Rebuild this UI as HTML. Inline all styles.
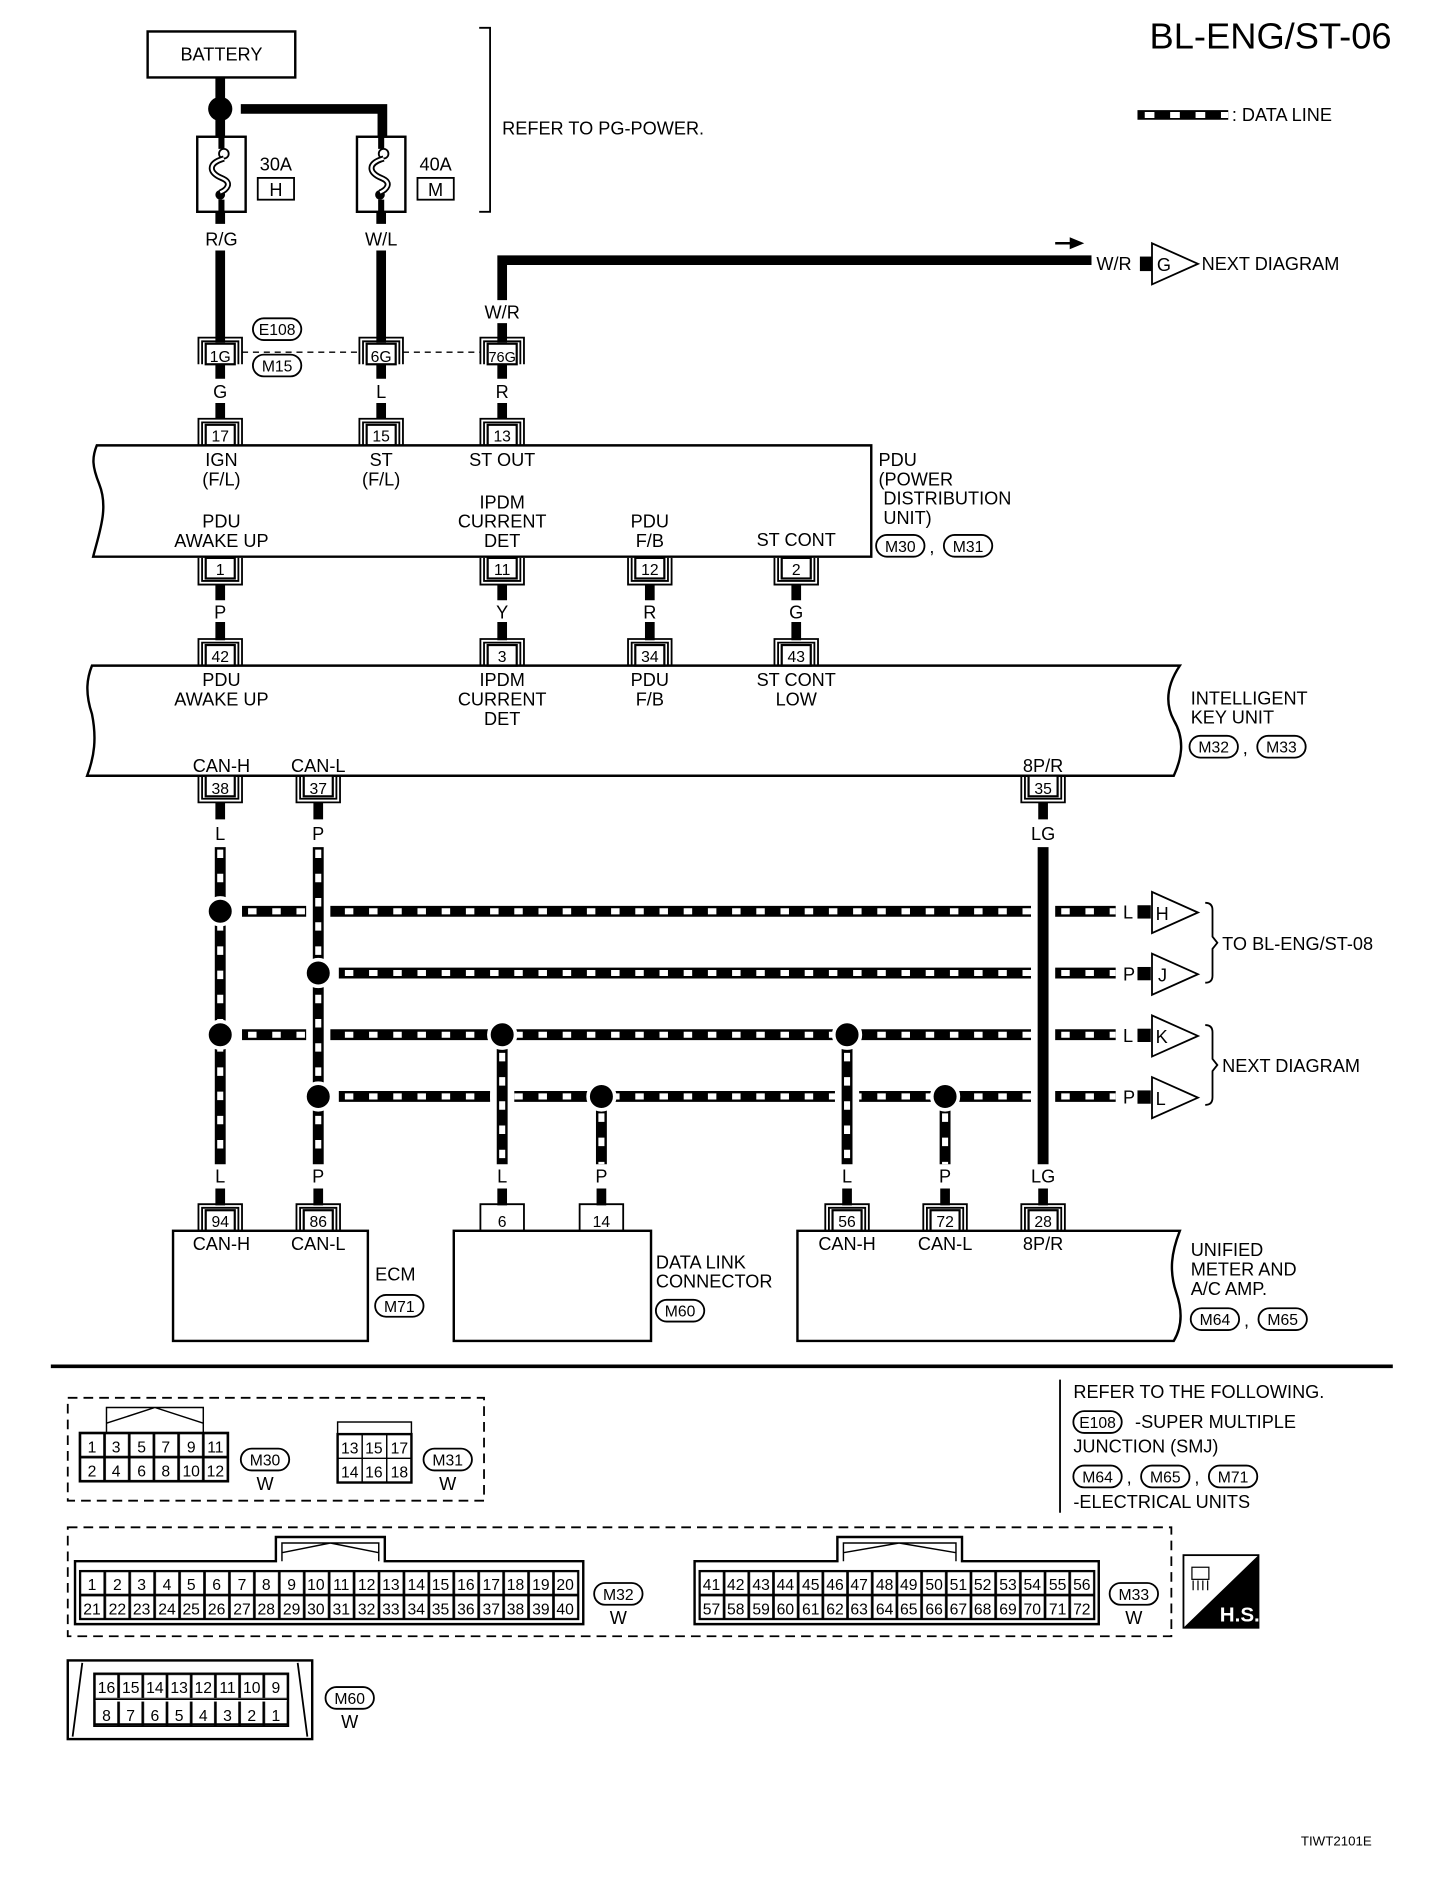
<!DOCTYPE html>
<html><head><meta charset="utf-8"><style>
html,body{margin:0;padding:0;background:#fff}
svg{display:block}
text{font-family:"Liberation Sans",sans-serif;font-size:15px;fill:#000}
.c{text-anchor:middle}
.s{font-size:13px}
</style></head><body>
<svg width="1440" height="1894" viewBox="0 0 1190 1565" preserveAspectRatio="none" xmlns="http://www.w3.org/2000/svg">
<defs>
<g id="ct"><path d="M-18 22V0H18V22" fill="none" stroke="#000" stroke-width="1.5"/><path d="M-15 22V3H15V22" fill="none" stroke="#000" stroke-width="1.5"/><rect x="-12" y="5" width="24" height="17" fill="#fff" stroke="#000" stroke-width="1.8"/></g>
<g id="cb"><path d="M-18 0V22H18V0" fill="none" stroke="#000" stroke-width="1.5"/><path d="M-15 0V19H15V0" fill="none" stroke="#000" stroke-width="1.5"/><rect x="-12" y="0" width="24" height="17" fill="#fff" stroke="#000" stroke-width="1.8"/></g>
<g id="fuse"><rect x="0" y="0" width="40" height="62" fill="#fff" stroke="#000" stroke-width="2"/><path d="M20 0V10M20 52V62" stroke="#000" stroke-width="5"/><circle cx="22" cy="14" r="4" fill="#fff" stroke="#000" stroke-width="1.5"/><circle cx="19" cy="48" r="4" fill="#000"/><path d="M22 18C8 22 10 30 20 34C30 38 24 44 19 46" fill="none" stroke="#000" stroke-width="5"/><path d="M22 18C8 22 10 30 20 34C30 38 24 44 19 46" fill="none" stroke="#fff" stroke-width="2"/></g>
<pattern id="p32" x="66" y="1298" width="20.6" height="20" patternUnits="userSpaceOnUse"><rect x="0.5" y="0.5" width="19.6" height="19" fill="#fff" stroke="#000" stroke-width="1.2"/></pattern>
<pattern id="p33" x="578" y="1298" width="20.4" height="20" patternUnits="userSpaceOnUse"><rect x="0.5" y="0.5" width="19.4" height="19" fill="#fff" stroke="#000" stroke-width="1.2"/></pattern>
<pattern id="p30" x="66" y="1184" width="20.4" height="20" patternUnits="userSpaceOnUse"><rect x="0.5" y="0.5" width="19.4" height="19" fill="#fff" stroke="#000" stroke-width="1.2"/></pattern>
<pattern id="p60" x="78" y="1383" width="20" height="21" patternUnits="userSpaceOnUse"><rect x="0.5" y="0.5" width="19" height="20" fill="#fff" stroke="#000" stroke-width="1.2"/></pattern>
</defs>

<text x="1150" y="40" style="font-size:30px;text-anchor:end">BL-ENG/ST-06</text>
<path d="M940 95H1015" stroke="#000" stroke-width="8"/>
<path d="M946 95H1015" stroke="#fff" stroke-width="5" stroke-dasharray="8 13"/>
<text x="1018" y="100">: DATA LINE</text>

<rect x="122" y="26" width="122" height="38" fill="#fff" stroke="#000" stroke-width="2"/>
<text class="c" x="183" y="50">BATTERY</text>
<path d="M182 64V113M199 90H316V113" fill="none" stroke="#000" stroke-width="8"/>
<circle cx="182" cy="90" r="10" fill="#000"/>
<use href="#fuse" x="163" y="113"/>
<use href="#fuse" x="295" y="113"/>
<text class="c" x="228" y="141">30A</text><rect x="213" y="147" width="30" height="18" fill="#fff" stroke="#000" stroke-width="1.5"/><text class="c" x="228" y="162">H</text>
<text class="c" x="360" y="141">40A</text><rect x="345" y="147" width="30" height="18" fill="#fff" stroke="#000" stroke-width="1.5"/><text class="c" x="360" y="162">M</text>
<path d="M396 23H405V175H396" fill="none" stroke="#000" stroke-width="1.5"/>
<text x="415" y="111">REFER TO PG-POWER.</text>
<path d="M182 175V185M315 175V185" stroke="#000" stroke-width="8"/>
<text class="c" x="183" y="203">R/G</text><text class="c" x="315" y="203">W/L</text>
<path d="M182 207V283M315 207V283" stroke="#000" stroke-width="8"/>
<path d="M415 248V215H902" fill="none" stroke="#000" stroke-width="8"/>
<path d="M872 201H886" stroke="#000" stroke-width="2"/><path d="M884 196L896 201L884 206Z" fill="#000"/>
<text x="906" y="223">W/R</text>
<rect x="942" y="212" width="10" height="12" fill="#000"/>
<path d="M952 201V235L990 218Z" fill="#fff" stroke="#000" stroke-width="1.5"/>
<text x="956" y="224">G</text>
<text x="993" y="223">NEXT DIAGRAM</text>
<text class="c" x="415" y="263">W/R</text>
<path d="M415 267V283" stroke="#000" stroke-width="8"/>

<path d="M200 291H297M333 291H397" stroke="#000" stroke-width="1.2" stroke-dasharray="5 4"/>
<use href="#ct" x="182" y="279"/><use href="#ct" x="315" y="279"/><use href="#ct" x="415" y="279"/>
<text class="c s" x="182" y="299">1G</text><text class="c s" x="315" y="299">6G</text><text class="c s" x="415" y="299" style="font-size:12px">76G</text>
<rect x="209" y="263" width="40" height="18" rx="9" fill="#fff" stroke="#000" stroke-width="1.5"/><text class="c s" x="229" y="277">E108</text>
<rect x="209" y="293" width="40" height="18" rx="9" fill="#fff" stroke="#000" stroke-width="1.5"/><text class="c s" x="229" y="307">M15</text>
<path d="M182 301V313M315 301V313M415 301V313M182 333V346M315 333V346M415 333V346" stroke="#000" stroke-width="8"/>
<text class="c" x="182" y="329">G</text><text class="c" x="315" y="329">L</text><text class="c" x="415" y="329">R</text>
<use href="#ct" x="182" y="346"/><use href="#ct" x="315" y="346"/><use href="#ct" x="415" y="346"/>
<text class="c s" x="182" y="365">17</text><text class="c s" x="315" y="365">15</text><text class="c s" x="415" y="365">13</text>

<path d="M80 368H720V460H77C82 440 90 420 82 400C76 385 76 378 80 368Z" fill="none" stroke="#000" stroke-width="2"/>
<text class="c" x="183" y="385">IGN</text><text class="c" x="183" y="401">(F/L)</text>
<text class="c" x="315" y="385">ST</text><text class="c" x="315" y="401">(F/L)</text>
<text class="c" x="415" y="385">ST OUT</text>
<text class="c" x="415" y="420">IPDM</text><text class="c" x="415" y="436">CURRENT</text><text class="c" x="415" y="452">DET</text>
<text class="c" x="183" y="436">PDU</text><text class="c" x="183" y="452">AWAKE UP</text>
<text class="c" x="537" y="436">PDU</text><text class="c" x="537" y="452">F/B</text>
<text class="c" x="658" y="451">ST CONT</text>
<text x="726" y="385">PDU</text><text x="726" y="401">(POWER</text><text x="730" y="417">DISTRIBUTION</text><text x="730" y="433">UNIT)</text>
<rect x="724" y="442" width="40" height="18" rx="9" fill="#fff" stroke="#000" stroke-width="1.5"/><text class="c s" x="744" y="456">M30</text>
<text x="768" y="457">,</text>
<rect x="780" y="442" width="40" height="18" rx="9" fill="#fff" stroke="#000" stroke-width="1.5"/><text class="c s" x="800" y="456">M31</text>
<use href="#cb" x="182" y="461"/><use href="#cb" x="415" y="461"/><use href="#cb" x="537" y="461"/><use href="#cb" x="658" y="461"/>
<text class="c s" x="182" y="475">1</text><text class="c s" x="415" y="475">11</text><text class="c s" x="537" y="475">12</text><text class="c s" x="658" y="475">2</text>
<path d="M182 483V496M415 483V496M537 483V496M658 483V496M182 514V529M415 514V529M537 514V529M658 514V529" stroke="#000" stroke-width="8"/>
<text class="c" x="182" y="511">P</text><text class="c" x="415" y="511">Y</text><text class="c" x="537" y="511">R</text><text class="c" x="658" y="511">G</text>
<use href="#ct" x="182" y="528"/><use href="#ct" x="415" y="528"/><use href="#ct" x="537" y="528"/><use href="#ct" x="658" y="528"/>
<text class="c s" x="182" y="547">42</text><text class="c s" x="415" y="547">3</text><text class="c s" x="537" y="547">34</text><text class="c s" x="658" y="547">43</text>

<path d="M76 550H975C965 565 962 580 970 595C980 612 976 628 970 641H72C78 625 80 610 76 590C70 572 72 560 76 550Z" fill="none" stroke="#000" stroke-width="2"/>
<text class="c" x="183" y="567">PDU</text><text class="c" x="183" y="583">AWAKE UP</text>
<text class="c" x="415" y="567">IPDM</text><text class="c" x="415" y="583">CURRENT</text><text class="c" x="415" y="599">DET</text>
<text class="c" x="537" y="567">PDU</text><text class="c" x="537" y="583">F/B</text>
<text class="c" x="658" y="567">ST CONT</text><text class="c" x="658" y="583">LOW</text>
<text x="984" y="582">INTELLIGENT</text><text x="984" y="598">KEY UNIT</text>
<rect x="983" y="608" width="40" height="18" rx="9" fill="#fff" stroke="#000" stroke-width="1.5"/><text class="c s" x="1003" y="622">M32</text>
<text x="1027" y="623">,</text>
<rect x="1039" y="608" width="40" height="18" rx="9" fill="#fff" stroke="#000" stroke-width="1.5"/><text class="c s" x="1059" y="622">M33</text>
<text class="c" x="183" y="638">CAN-H</text><text class="c" x="263" y="638">CAN-L</text><text class="c" x="862" y="638">8P/R</text>
<use href="#cb" x="182" y="641"/><use href="#cb" x="263" y="641"/><use href="#cb" x="862" y="641"/>
<text class="c s" x="182" y="656">38</text><text class="c s" x="263" y="656">37</text><text class="c s" x="862" y="656">35</text>
<path d="M182 663V677M263 663V677M862 663V677" stroke="#000" stroke-width="8"/>
<text class="c" x="182" y="694">L</text><text class="c" x="263" y="694">P</text><text class="c" x="862" y="694">LG</text>

<g stroke-width="9" fill="none">
<path d="M200 753H852M872 753H922M280 804H852M872 804H922M200 855H852M872 855H922M280 906H852M872 906H922" stroke="#000"/>
</g>
<g stroke-width="5" fill="none" stroke="#fff" stroke-dasharray="7 13">
<path d="M205 753H852M877 753H922M285 804H852M877 804H922M205 855H852M877 855H922M285 906H852M877 906H922"/>
</g>
<path d="M263 700V962M415 862V962M700 862V962" stroke="#fff" stroke-width="20"/>
<path d="M182 700V962M263 700V962M415 855V962M497 906V962M700 855V962M781 906V962" stroke="#000" stroke-width="9"/>
<path d="M182 702V962M263 702V962M415 870V962M497 920V962M700 870V962M781 920V962" stroke="#fff" stroke-width="5" stroke-dasharray="7 13"/>
<path d="M862 700V962" stroke="#000" stroke-width="9"/>
<g fill="#000" stroke="#fff" stroke-width="3">
<circle cx="182" cy="753" r="11"/><circle cx="263" cy="804" r="11"/><circle cx="182" cy="855" r="11"/><circle cx="415" cy="855" r="11"/><circle cx="700" cy="855" r="11"/><circle cx="263" cy="906" r="11"/><circle cx="497" cy="906" r="11"/><circle cx="781" cy="906" r="11"/>
</g>
<g>
<text x="928" y="759">L</text><rect x="940" y="748" width="11" height="11" fill="#000"/><path d="M952 737V771L990 754Z" fill="#fff" stroke="#000" stroke-width="1.5"/><text x="955" y="760">H</text>
<text x="928" y="810">P</text><rect x="940" y="799" width="11" height="11" fill="#000"/><path d="M952 788V822L990 805Z" fill="#fff" stroke="#000" stroke-width="1.5"/><text x="957" y="811">J</text>
<text x="928" y="861">L</text><rect x="940" y="850" width="11" height="11" fill="#000"/><path d="M952 839V873L990 856Z" fill="#fff" stroke="#000" stroke-width="1.5"/><text x="955" y="862">K</text>
<text x="928" y="912">P</text><rect x="940" y="901" width="11" height="11" fill="#000"/><path d="M952 890V924L990 907Z" fill="#fff" stroke="#000" stroke-width="1.5"/><text x="955" y="913">L</text>
</g>
<path d="M996 746Q1002 746 1002 752V774L1006 779L1002 784V806Q1002 812 996 812" fill="none" stroke="#000" stroke-width="1.5"/>
<path d="M996 847Q1002 847 1002 853V875L1006 880L1002 885V907Q1002 913 996 913" fill="none" stroke="#000" stroke-width="1.5"/>
<text x="1010" y="785">TO BL-ENG/ST-08</text>
<text x="1010" y="886">NEXT DIAGRAM</text>

<text class="c" x="182" y="977">L</text><text class="c" x="263" y="977">P</text><text class="c" x="415" y="977">L</text><text class="c" x="497" y="977">P</text><text class="c" x="700" y="977">L</text><text class="c" x="781" y="977">P</text><text class="c" x="862" y="977">LG</text>
<path d="M182 982V996M263 982V996M415 982V996M497 982V996M700 982V996M781 982V996M862 982V996" stroke="#000" stroke-width="8"/>
<use href="#ct" x="182" y="995"/><use href="#ct" x="263" y="995"/><use href="#ct" x="700" y="995"/><use href="#ct" x="781" y="995"/><use href="#ct" x="862" y="995"/>
<path d="M397 1017V995H433V1017M479 1017V995H515V1017" fill="none" stroke="#000" stroke-width="1.5"/>
<text class="c s" x="182" y="1014">94</text><text class="c s" x="263" y="1014">86</text><text class="c s" x="415" y="1014">6</text><text class="c s" x="497" y="1014">14</text><text class="c s" x="700" y="1014">56</text><text class="c s" x="781" y="1014">72</text><text class="c s" x="862" y="1014">28</text>

<rect x="143" y="1017" width="161" height="91" fill="none" stroke="#000" stroke-width="2"/>
<text class="c" x="183" y="1033">CAN-H</text><text class="c" x="263" y="1033">CAN-L</text>
<text x="310" y="1058">ECM</text>
<rect x="310" y="1070" width="40" height="18" rx="9" fill="#fff" stroke="#000" stroke-width="1.5"/><text class="c s" x="330" y="1084">M71</text>
<rect x="375" y="1017" width="163" height="91" fill="none" stroke="#000" stroke-width="2"/>
<text x="542" y="1048">DATA LINK</text><text x="542" y="1064">CONNECTOR</text>
<rect x="542" y="1074" width="40" height="18" rx="9" fill="#fff" stroke="#000" stroke-width="1.5"/><text class="c s" x="562" y="1088">M60</text>
<path d="M659 1017H975C968 1035 966 1050 972 1068C978 1085 976 1098 970 1108H659Z" fill="none" stroke="#000" stroke-width="2"/>
<text class="c" x="700" y="1033">CAN-H</text><text class="c" x="781" y="1033">CAN-L</text><text class="c" x="862" y="1033">8P/R</text>
<text x="984" y="1038">UNIFIED</text><text x="984" y="1054">METER AND</text><text x="984" y="1070">A/C AMP.</text>
<rect x="984" y="1081" width="40" height="18" rx="9" fill="#fff" stroke="#000" stroke-width="1.5"/><text class="c s" x="1004" y="1095">M64</text>
<text x="1028" y="1096">,</text>
<rect x="1040" y="1081" width="40" height="18" rx="9" fill="#fff" stroke="#000" stroke-width="1.5"/><text class="c s" x="1060" y="1095">M65</text>

<path d="M42 1129H1151" stroke="#000" stroke-width="3"/>

<path d="M876 1140V1250" stroke="#000" stroke-width="1.5"/>
<text x="887" y="1155">REFER TO THE FOLLOWING.</text>
<rect x="887" y="1166" width="40" height="18" rx="9" fill="#fff" stroke="#000" stroke-width="1.5"/><text class="c s" x="907" y="1180">E108</text>
<text x="938" y="1180">-SUPER MULTIPLE</text>
<text x="887" y="1200">JUNCTION (SMJ)</text>
<rect x="887" y="1211" width="40" height="18" rx="9" fill="#fff" stroke="#000" stroke-width="1.5"/><text class="c s" x="907" y="1225">M64</text>
<text x="931" y="1226">,</text>
<rect x="943" y="1211" width="40" height="18" rx="9" fill="#fff" stroke="#000" stroke-width="1.5"/><text class="c s" x="963" y="1225">M65</text>
<text x="987" y="1226">,</text>
<rect x="999" y="1211" width="40" height="18" rx="9" fill="#fff" stroke="#000" stroke-width="1.5"/><text class="c s" x="1019" y="1225">M71</text>
<text x="887" y="1246">-ELECTRICAL UNITS</text>

<rect x="56" y="1155" width="344" height="85" fill="none" stroke="#000" stroke-width="1.5" stroke-dasharray="8 5"/>
<path d="M88 1184V1163H168V1184M88 1176L128 1163L168 1176" fill="none" stroke="#000" stroke-width="1.2"/>
<rect x="66" y="1184" width="122.4" height="40" fill="url(#p30)" stroke="#000" stroke-width="2"/>
<text class="c s" x="76" y="1200">1</text><text class="c s" x="96" y="1200">3</text><text class="c s" x="117" y="1200">5</text><text class="c s" x="137" y="1200">7</text><text class="c s" x="158" y="1200">9</text><text class="c s" x="178" y="1200">11</text>
<text class="c s" x="76" y="1220">2</text><text class="c s" x="96" y="1220">4</text><text class="c s" x="117" y="1220">6</text><text class="c s" x="137" y="1220">8</text><text class="c s" x="158" y="1220">10</text><text class="c s" x="178" y="1220">12</text>
<rect x="199" y="1197" width="40" height="18" rx="9" fill="#fff" stroke="#000" stroke-width="1.5"/><text class="c s" x="219" y="1211">M30</text>
<text class="c" x="219" y="1231">W</text>
<rect x="279" y="1175" width="61" height="10" fill="none" stroke="#000" stroke-width="1.2"/>
<rect x="279" y="1185" width="61" height="40" fill="#fff" stroke="#000" stroke-width="2"/>
<path d="M299.3 1185V1225M319.6 1185V1225M279 1205H340" stroke="#000" stroke-width="1.2"/>
<text class="c s" x="289" y="1201">13</text><text class="c s" x="309" y="1201">15</text><text class="c s" x="330" y="1201">17</text>
<text class="c s" x="289" y="1221">14</text><text class="c s" x="309" y="1221">16</text><text class="c s" x="330" y="1221">18</text>
<rect x="350" y="1197" width="40" height="18" rx="9" fill="#fff" stroke="#000" stroke-width="1.5"/><text class="c s" x="370" y="1211">M31</text>
<text class="c" x="370" y="1231">W</text>

<rect x="56" y="1262" width="912" height="90" fill="none" stroke="#000" stroke-width="1.5" stroke-dasharray="8 5"/>
<path d="M62 1342V1290H228V1270H318V1290H482V1342Z" fill="none" stroke="#000" stroke-width="2"/>
<path d="M233 1290V1275H313V1290M233 1283L273 1275L313 1283" fill="none" stroke="#000" stroke-width="1.2"/>
<rect x="66" y="1298" width="412" height="40" fill="url(#p32)" stroke="#000" stroke-width="1.5"/>
<path d="M574 1342V1290H692V1270H795V1290H908V1342Z" fill="none" stroke="#000" stroke-width="2"/>
<path d="M697 1290V1275H790V1290M697 1283L743 1275L790 1283" fill="none" stroke="#000" stroke-width="1.2"/>
<rect x="578" y="1298" width="326.4" height="40" fill="url(#p33)" stroke="#000" stroke-width="1.5"/>
<g>
<text class="c s" x="76" y="1314">1</text><text class="c s" x="97" y="1314">2</text><text class="c s" x="117" y="1314">3</text><text class="c s" x="138" y="1314">4</text><text class="c s" x="158" y="1314">5</text><text class="c s" x="179" y="1314">6</text><text class="c s" x="200" y="1314">7</text><text class="c s" x="220" y="1314">8</text><text class="c s" x="241" y="1314">9</text><text class="c s" x="261" y="1314">10</text><text class="c s" x="282" y="1314">11</text><text class="c s" x="303" y="1314">12</text><text class="c s" x="323" y="1314">13</text><text class="c s" x="344" y="1314">14</text><text class="c s" x="364" y="1314">15</text><text class="c s" x="385" y="1314">16</text><text class="c s" x="406" y="1314">17</text><text class="c s" x="426" y="1314">18</text><text class="c s" x="447" y="1314">19</text><text class="c s" x="467" y="1314">20</text>
<text class="c s" x="76" y="1334">21</text><text class="c s" x="97" y="1334">22</text><text class="c s" x="117" y="1334">23</text><text class="c s" x="138" y="1334">24</text><text class="c s" x="158" y="1334">25</text><text class="c s" x="179" y="1334">26</text><text class="c s" x="200" y="1334">27</text><text class="c s" x="220" y="1334">28</text><text class="c s" x="241" y="1334">29</text><text class="c s" x="261" y="1334">30</text><text class="c s" x="282" y="1334">31</text><text class="c s" x="303" y="1334">32</text><text class="c s" x="323" y="1334">33</text><text class="c s" x="344" y="1334">34</text><text class="c s" x="364" y="1334">35</text><text class="c s" x="385" y="1334">36</text><text class="c s" x="406" y="1334">37</text><text class="c s" x="426" y="1334">38</text><text class="c s" x="447" y="1334">39</text><text class="c s" x="467" y="1334">40</text>
<text class="c s" x="588" y="1314">41</text><text class="c s" x="608" y="1314">42</text><text class="c s" x="629" y="1314">43</text><text class="c s" x="649" y="1314">44</text><text class="c s" x="670" y="1314">45</text><text class="c s" x="690" y="1314">46</text><text class="c s" x="710" y="1314">47</text><text class="c s" x="731" y="1314">48</text><text class="c s" x="751" y="1314">49</text><text class="c s" x="772" y="1314">50</text><text class="c s" x="792" y="1314">51</text><text class="c s" x="812" y="1314">52</text><text class="c s" x="833" y="1314">53</text><text class="c s" x="853" y="1314">54</text><text class="c s" x="874" y="1314">55</text><text class="c s" x="894" y="1314">56</text>
<text class="c s" x="588" y="1334">57</text><text class="c s" x="608" y="1334">58</text><text class="c s" x="629" y="1334">59</text><text class="c s" x="649" y="1334">60</text><text class="c s" x="670" y="1334">61</text><text class="c s" x="690" y="1334">62</text><text class="c s" x="710" y="1334">63</text><text class="c s" x="731" y="1334">64</text><text class="c s" x="751" y="1334">65</text><text class="c s" x="772" y="1334">66</text><text class="c s" x="792" y="1334">67</text><text class="c s" x="812" y="1334">68</text><text class="c s" x="833" y="1334">69</text><text class="c s" x="853" y="1334">70</text><text class="c s" x="874" y="1334">71</text><text class="c s" x="894" y="1334">72</text>
</g>
<rect x="491" y="1308" width="40" height="18" rx="9" fill="#fff" stroke="#000" stroke-width="1.5"/><text class="c s" x="511" y="1322">M32</text>
<text class="c" x="511" y="1342">W</text>
<rect x="917" y="1308" width="40" height="18" rx="9" fill="#fff" stroke="#000" stroke-width="1.5"/><text class="c s" x="937" y="1322">M33</text>
<text class="c" x="937" y="1342">W</text>
<rect x="978" y="1285" width="62" height="60" fill="#fff" stroke="#000" stroke-width="1.5"/>
<path d="M1040 1285V1345H978Z" fill="#000"/>
<rect x="985" y="1295" width="14" height="10" fill="none" stroke="#000" stroke-width="1"/>
<path d="M986 1306V1314M990 1306V1314M994 1306V1314M998 1306V1314" stroke="#000" stroke-width="1"/>
<text x="1008" y="1340" style="font-size:17px;font-weight:bold;fill:#fff">H.S.</text>

<rect x="56" y="1372" width="202" height="65" fill="none" stroke="#000" stroke-width="2"/>
<path d="M68 1374L60 1435M246 1374L254 1435" stroke="#000" stroke-width="1.5"/>
<rect x="78" y="1383" width="160" height="43" fill="#fff" stroke="#000" stroke-width="2"/>
<rect x="78" y="1383" width="160" height="20" fill="url(#p60)"/>
<rect x="78" y="1406" width="160" height="20" fill="url(#p60)"/>
<path d="M78 1404H238" stroke="#000" stroke-width="1.5"/>
<text class="c s" x="88" y="1399">16</text><text class="c s" x="108" y="1399">15</text><text class="c s" x="128" y="1399">14</text><text class="c s" x="148" y="1399">13</text><text class="c s" x="168" y="1399">12</text><text class="c s" x="188" y="1399">11</text><text class="c s" x="208" y="1399">10</text><text class="c s" x="228" y="1399">9</text>
<text class="c s" x="88" y="1422">8</text><text class="c s" x="108" y="1422">7</text><text class="c s" x="128" y="1422">6</text><text class="c s" x="148" y="1422">5</text><text class="c s" x="168" y="1422">4</text><text class="c s" x="188" y="1422">3</text><text class="c s" x="208" y="1422">2</text><text class="c s" x="228" y="1422">1</text>
<rect x="269" y="1394" width="40" height="18" rx="9" fill="#fff" stroke="#000" stroke-width="1.5"/><text class="c s" x="289" y="1408">M60</text>
<text class="c" x="289" y="1428">W</text>

<text x="1075" y="1525" style="font-size:11px">TIWT2101E</text>
</svg>
</body></html>
